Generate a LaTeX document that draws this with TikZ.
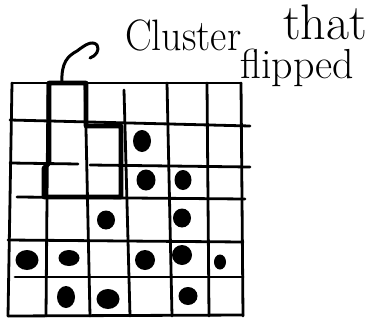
\documentclass[tikz,border=0pt]{standalone}
\usepackage{amsmath}
\begin{document}
\begin{tikzpicture}[x=1pt,y=-1pt,line cap=round,line join=round,
    gridline/.style={line width=2.8pt},
    clusterline/.style={line width=4.6pt},
    hand/.style={anchor=base west,inner sep=0pt}]
            \useasboundingbox (0,0) rectangle (371,321);
            \draw[gridline] (12,83) -- (8,316);
            \draw[gridline] (48,83) -- (46,316);
            \draw[gridline] (85,83) -- (90,316);
            \draw[gridline] (124,90) -- (130,316);
            \draw[gridline] (167,83) -- (172,316);
            \draw[gridline] (207,83) -- (209,316);
            \draw[gridline] (241,83) -- (243,316);
            \draw[gridline] (12,83) -- (241,83);
            \draw[gridline] (10,120) -- (250,126);
            \draw[gridline] (10,163) -- (78,164);
            \draw[gridline] (90,165) -- (250,167);
            \draw[gridline] (17,197) -- (245,199);
            \draw[gridline] (8,240) -- (243,242);
            \draw[gridline] (15,277) -- (243,277);
            \draw[gridline] (8,316) -- (243,315);
            \draw[clusterline] (49,83) -- (86,83) -- (86,126) -- (121,126)
                -- (121,197) -- (44,197) -- (44,168) -- (49,163) -- cycle;
            \foreach \cx/\cy/\rx/\ry in {142/141/9/11, 146/180/9.5/10.5, 183/180/8.5/10,
                106/220/9/9.5, 182/218/9/9.5, 27/260/11.5/10, 69/258/10.5/8,
                145/260/10/10, 182/255/10/10, 220/262/6/7.5,
                66/297/9/11, 108/299/11.5/10, 188/296/9.5/9}
                \fill (\cx,\cy) ellipse ({\rx} and {\ry});
            \coordinate (clustertop) at (62,83);
            \draw[line width=3pt] (clustertop) .. controls (61,62) and (68,56) .. (77,51)
                .. controls (85,45) and (92,40) .. (97,45) .. controls (100,50) and (96,56) .. (90,58);
            \node[hand,font=\fontsize{40}{40}\selectfont,yscale=1.1,transform shape] (clusterlbl) at (125,50) {Cluster};
            \node[hand,font=\fontsize{50}{50}\selectfont] (thatlbl) at (283,39) {that};
            \node[hand,font=\fontsize{42}{42}\selectfont] (flippedlbl) at (240,78) {flipped};
        \end{tikzpicture}
\end{document}
